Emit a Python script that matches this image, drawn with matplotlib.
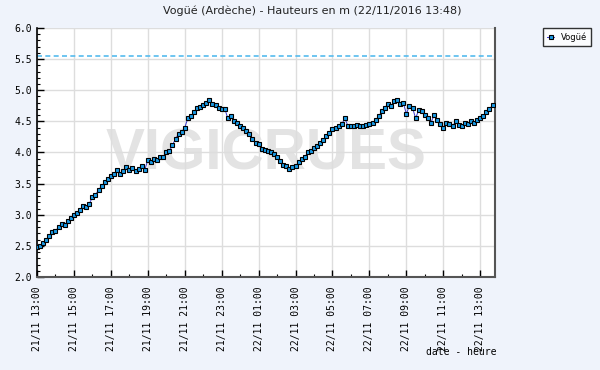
import matplotlib
matplotlib.use("Agg")
import matplotlib.pyplot as plt
import matplotlib.dates as mdates
import pandas as pd

# hauteurs relevées toutes les 10 minutes depuis le 21/11 13:00
debut = "2016-11-21 13:00"
hauteurs = [
    2.48, 2.50, 2.55, 2.60, 2.66, 2.72,   # 13h
    2.74, 2.80, 2.85, 2.84, 2.90, 2.95,   # 14h
    3.00, 3.02, 3.08, 3.14, 3.12, 3.18,   # 15h
    3.28, 3.32, 3.40, 3.46, 3.52, 3.57,   # 16h
    3.62, 3.65, 3.72, 3.66, 3.70, 3.77,   # 17h
    3.72, 3.75, 3.70, 3.74, 3.78, 3.72,   # 18h
    3.88, 3.85, 3.90, 3.88, 3.93, 3.92,   # 19h
    4.00, 4.02, 4.12, 4.22, 4.30, 4.33,   # 20h
    4.40, 4.55, 4.58, 4.65, 4.72, 4.73,   # 21h
    4.76, 4.80, 4.84, 4.78, 4.76, 4.72,   # 22h
    4.70, 4.70, 4.55, 4.58, 4.50, 4.47,   # 23h
    4.43, 4.40, 4.35, 4.30, 4.22, 4.16,   # 00h
    4.13, 4.05, 4.04, 4.03, 4.00, 3.97,   # 01h
    3.93, 3.86, 3.80, 3.78, 3.74, 3.76,   # 02h
    3.78, 3.84, 3.90, 3.93, 4.00, 4.03,   # 03h
    4.07, 4.10, 4.15, 4.20, 4.27, 4.32,   # 04h
    4.38, 4.40, 4.42, 4.45, 4.55, 4.43,   # 05h
    4.42, 4.43, 4.44, 4.42, 4.43, 4.44,   # 06h
    4.45, 4.48, 4.52, 4.58, 4.66, 4.72,   # 07h
    4.78, 4.75, 4.82, 4.84, 4.78, 4.80,   # 08h
    4.62, 4.75, 4.72, 4.55, 4.68, 4.66,   # 09h
    4.60, 4.55, 4.48, 4.60, 4.52, 4.45,   # 10h
    4.40, 4.48, 4.45, 4.42, 4.50, 4.44,   # 11h
    4.42, 4.47, 4.45, 4.50, 4.48, 4.52,   # 12h
    4.55, 4.58, 4.65, 4.70, 4.76,         # 13h
]
heures = pd.date_range(debut, periods=len(hauteurs), freq="10min")

seuil = 5.55
titre = "Vogüé (Ardèche) - Hauteurs en m (22/11/2016 13:48)"
x_min = pd.Timestamp("2016-11-21 13:00")
x_max = pd.Timestamp("2016-11-22 13:48")

fond = "#eff3fb"
fig = plt.figure(figsize=(6, 3.7), dpi=100, facecolor=fond)
ax = fig.add_axes([0.0617, 0.2514, 0.7633, 0.6729])
ax.set_facecolor("white")

# filigrane
ax.text(0.5, 0.49, "VIGICRUES", transform=ax.transAxes, ha="center", va="center",
        fontsize=42, fontweight="bold", color="#e3e3e3", family="Liberation Sans", zorder=0)

ax.axhline(seuil, color="#55bbee", linestyle=(0, (3, 2)), linewidth=1.2, zorder=2)
ax.plot(heures, hauteurs, color="#3a3ad0", linewidth=0.7, marker="s", markersize=3.3,
        markerfacecolor="#1a9be6", markeredgecolor="black", markeredgewidth=0.8,
        label="Vogüé", zorder=3)

ax.set_xlim(x_min, x_max)
ax.set_ylim(2.0, 6.0)

ax.xaxis.set_major_locator(mdates.HourLocator(byhour=range(1, 24, 2)))
ax.xaxis.set_minor_locator(mdates.HourLocator())
ax.xaxis.set_major_formatter(mdates.DateFormatter("%d/%m %H:%M"))
ax.set_yticks([2.0, 2.5, 3.0, 3.5, 4.0, 4.5, 5.0, 5.5, 6.0])
ax.set_yticks([2.0 + 0.1 * i for i in range(41)], minor=True)
ax.yaxis.set_major_formatter(matplotlib.ticker.FormatStrFormatter("%.1f"))

for lab in ax.get_xticklabels():
    lab.set_rotation(90)
ax.tick_params(axis="both", which="major", direction="in", length=5, width=1,
               labelsize=7, colors="black")
ax.tick_params(axis="both", which="minor", direction="in", length=2.5, width=0.8)
ax.tick_params(axis="x", pad=7)
for lab in ax.get_xticklabels() + ax.get_yticklabels():
    lab.set_family("DejaVu Sans Mono")

ax.grid(True, which="major", color="#dddddd", linewidth=1)
ax.spines["top"].set_visible(False)
ax.spines["right"].set_color("#555555")
ax.spines["right"].set_linewidth(1.5)
ax.spines["left"].set_linewidth(1.2)
ax.spines["bottom"].set_color("#555555")
ax.spines["bottom"].set_linewidth(1.5)

fig.text(0.52, 0.972, titre, ha="center", va="center", fontsize=8, color="#222222")
fig.text(0.828, 0.048, "date - heure", ha="right", va="center", fontsize=7,
         family="DejaVu Sans Mono")

leg = ax.legend(loc="upper left", bbox_to_anchor=(1.105, 1.0), fontsize=6,
                frameon=True, fancybox=False, handlelength=0.8, handletextpad=0.8,
                borderpad=0.5, borderaxespad=0)
leg.get_frame().set_edgecolor("black")
leg.get_frame().set_linewidth(1)

fig.savefig("out.png", dpi=100, facecolor=fond)
